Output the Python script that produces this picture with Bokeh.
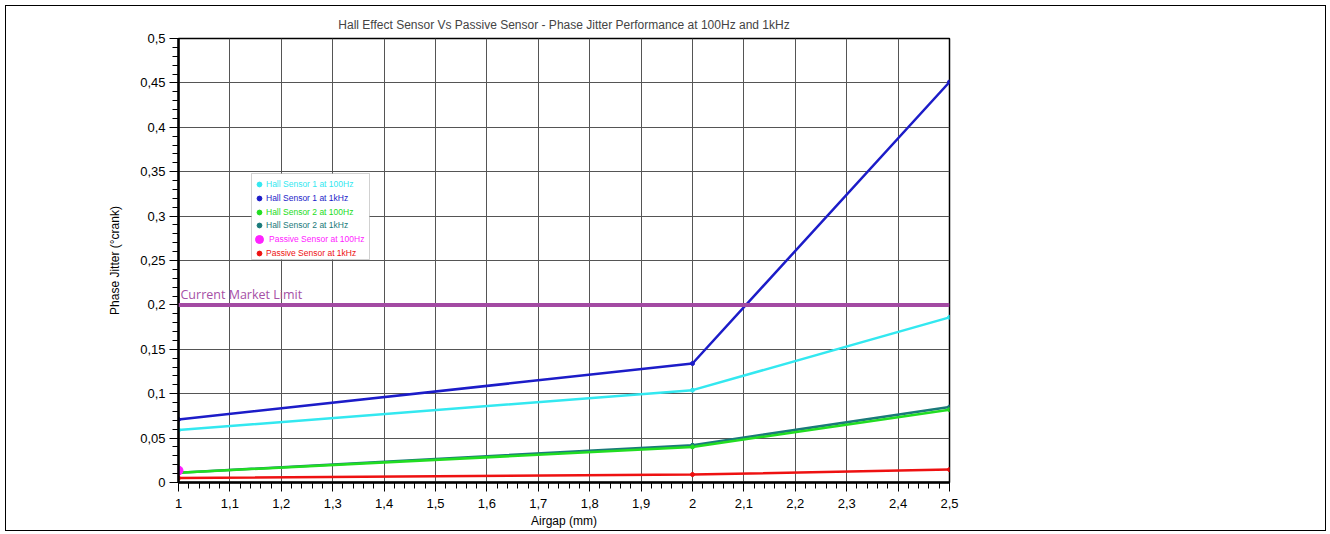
from bokeh.plotting import figure
from bokeh.models import (SingleIntervalTicker, CustomJSTickFormatter, Legend, LegendItem,
                          BoxAnnotation, Label, Span, Range1d)
from bokeh.embed import file_html
from bokeh.resources import INLINE

# ---- data ----
airgap = [1.0, 2.0, 2.5]
hall1_100hz = [0.059, 0.104, 0.186]
hall1_1khz = [0.071, 0.134, 0.451]
hall2_100hz = [0.011, 0.040, 0.082]
hall2_1khz = [0.011, 0.042, 0.085]
passive_airgap = [1.0]
passive_100hz = [0.0135]
passive_1khz = [0.005, 0.009, 0.0145]
market_limit = 0.2
market_limit_label = "Current Market Limit"

series_names = ["Hall Sensor 1 at 100Hz", "Hall Sensor 1 at 1kHz", "Hall Sensor 2 at 100Hz",
                "Hall Sensor 2 at 1kHz", "Passive Sensor at 100Hz", "Passive Sensor at 1kHz"]
series_colors = ["#33e8f0", "#1c1cc8", "#22dd22", "#1a7a7a", "#ff22ff", "#ee1111"]

title = "Hall Effect Sensor Vs Passive Sensor - Phase Jitter Performance at 100Hz and 1kHz"
x_label = "Airgap (mm)"
y_label = "Phase Jitter (°crank)"

FONT = "Liberation Sans"

p = figure(width=1321, height=526, output_backend="svg", toolbar_location=None,
           x_range=Range1d(1.0, 2.5), y_range=Range1d(0.0, 0.5),
           min_border_left=172, min_border_right=378, min_border_top=32, min_border_bottom=50)
p.styles = {"border": "1.5px solid black", "margin-left": "5px", "margin-top": "5px"}

p.title.text = title
p.title.align = "center"
p.title.vertical_align = "top"
p.title.text_font = FONT
p.title.text_font_size = "12px"
p.title.text_font_style = "normal"
p.title.offset = 0
p.title.standoff = 10

p.outline_line_color = "black"
p.outline_line_width = 1.5

# axes
p.xaxis.ticker = SingleIntervalTicker(interval=0.1, num_minor_ticks=5)
p.yaxis.ticker = SingleIntervalTicker(interval=0.05, num_minor_ticks=5)
fmt = CustomJSTickFormatter(code="return String(Math.round(tick*100)/100).replace('.', ',');")
p.xaxis.formatter = fmt
p.yaxis.formatter = fmt
for ax in (p.xaxis[0], p.yaxis[0]):
    ax.axis_line_width = 2.5
    ax.axis_line_color = "black"
    ax.major_tick_line_color = "black"
    ax.minor_tick_line_color = "black"
    ax.major_tick_out = 9
    ax.major_tick_in = 0
    ax.minor_tick_out = 6
    ax.minor_tick_in = 0
    ax.major_label_text_font = FONT
    ax.major_label_text_font_size = "13px"
    ax.major_label_text_color = "black"
    ax.axis_label_text_font = FONT
    ax.axis_label_text_font_size = "12px"
    ax.axis_label_text_font_style = "normal"
    ax.axis_label_text_color = "black"
p.xaxis.axis_label = x_label
p.yaxis.axis_label = y_label
p.xaxis.major_label_standoff = 7
p.xaxis.axis_label_standoff = 3
p.yaxis.major_label_standoff = 4
p.yaxis.axis_label_standoff = 15

p.xgrid.grid_line_color = "#555555"
p.ygrid.grid_line_color = "#555555"
p.xgrid.grid_line_width = 1
p.ygrid.grid_line_width = 1

# market limit
p.add_layout(Span(location=market_limit, dimension="width", line_color="#a34aa3", line_width=4))
p.add_layout(Label(x=airgap[0], y=market_limit, text=market_limit_label, x_offset=2, y_offset=2,
                   text_font="Open Sans", text_font_size="12.5px", text_color="#a650a6"))

# lines
ys = [hall1_100hz, hall1_1khz, hall2_1khz, hall2_100hz]
idx = [0, 1, 3, 2]
scat = {}
for k, y in zip(idx, ys):
    p.line(airgap, y, line_color=series_colors[k], line_width=2.5)
p.line(airgap, passive_1khz, line_color=series_colors[5], line_width=2.5)

for k, y in zip(idx, ys):
    scat[k] = p.scatter(airgap, y, size=4, fill_color=series_colors[k], line_color=series_colors[k])
scat[5] = p.scatter(airgap, passive_1khz, size=4, fill_color=series_colors[5], line_color=series_colors[5])
scat[4] = p.scatter(passive_airgap, passive_100hz, size=9, fill_color=series_colors[4],
                    line_color=series_colors[4])

# legend box (screen units, relative to the frame)
p.add_layout(BoxAnnotation(left=73, right=191, bottom=223, top=309,
                           left_units="screen", right_units="screen",
                           bottom_units="screen", top_units="screen",
                           fill_color="white", fill_alpha=1.0,
                           line_color="#666666", line_width=1, level="annotation"))

frame_h = 443
for i, name in enumerate(series_names):
    gh = 20 if i == 4 else 12
    gw = 20 if i == 4 else 12
    cy = 183 + 13.8 * i - 38  # from frame top
    bottom = frame_h - cy - gh / 2
    left = 81 - gw / 2
    lg = Legend(items=[LegendItem(label=name, renderers=[scat[i]])],
                location=(left, bottom), orientation="vertical",
                glyph_width=gw, glyph_height=gh, label_height=gh, label_width=10,
                label_standoff=1 if i != 4 else -3, padding=0, spacing=0, margin=0,
                label_text_font=FONT, label_text_font_size="8.5px",
                label_text_color=series_colors[i],
                border_line_alpha=0, background_fill_alpha=0)
    p.add_layout(lg, "center")

open("out.html", "w").write(file_html(p, INLINE))
